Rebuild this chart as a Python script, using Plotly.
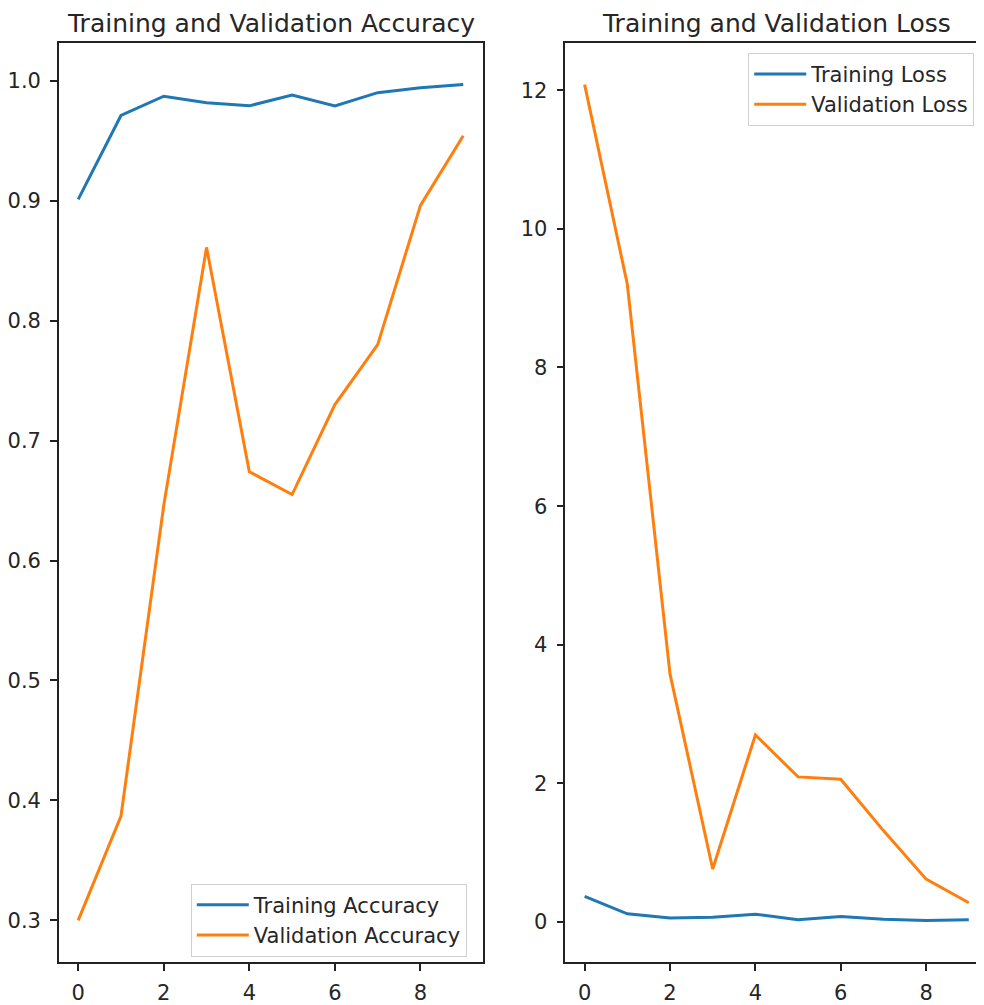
import plotly.graph_objects as go

epochs = [0, 1, 2, 3, 4, 5, 6, 7, 8, 9]
train_acc = [0.901, 0.971, 0.987, 0.9815, 0.979, 0.988, 0.979, 0.990, 0.994, 0.9967]
val_acc = [0.300, 0.387, 0.646, 0.861, 0.674, 0.655, 0.730, 0.780, 0.896, 0.954]
train_loss = [0.37, 0.12, 0.058, 0.072, 0.115, 0.034, 0.08, 0.04, 0.025, 0.034]
val_loss = [12.08, 9.20, 3.58, 0.766, 2.70, 2.095, 2.06, 1.32, 0.62, 0.28]

titles = ["Training and Validation Accuracy", "Training and Validation Loss"]

PAGE_W, PAGE_H = 984, 1005
OFF = 8  # default body margin of the html page
W, H = PAGE_W - OFF, PAGE_H - OFF
BLUE = "#1f77b4"
ORANGE = "#ff7f0e"
TXT = "#262626"
FONT = "DejaVu Sans"


def px(v):
    return v - OFF


def padded(lo, hi, frac=0.05):
    s = hi - lo
    return [lo - frac * s, hi + frac * s]


fig = go.Figure()
fig.add_trace(go.Scatter(x=epochs, y=train_acc, mode="lines", name="Training Accuracy",
                         line=dict(color=BLUE, width=3), xaxis="x", yaxis="y", legend="legend"))
fig.add_trace(go.Scatter(x=epochs, y=val_acc, mode="lines", name="Validation Accuracy",
                         line=dict(color=ORANGE, width=3), xaxis="x", yaxis="y", legend="legend"))
fig.add_trace(go.Scatter(x=epochs, y=train_loss, mode="lines", name="Training Loss",
                         line=dict(color=BLUE, width=3), xaxis="x2", yaxis="y2", legend="legend2"))
fig.add_trace(go.Scatter(x=epochs, y=val_loss, mode="lines", name="Validation Loss",
                         line=dict(color=ORANGE, width=3), xaxis="x2", yaxis="y2", legend="legend2"))

xr = padded(min(epochs), max(epochs))
acc_r = padded(min(train_acc + val_acc), max(train_acc + val_acc))
loss_r = padded(min(train_loss + val_loss), max(train_loss + val_loss))

ax_common = dict(showgrid=False, zeroline=False, showline=True, linecolor="#222", linewidth=1.5,
                 ticks="outside", ticklen=7, tickwidth=1.5, tickcolor="#222",
                 tickfont=dict(family=FONT, size=21, color=TXT))

# page-pixel boxes: left axes 58..482 x 43..967 ; right axes 565..988 (cropped at 984)
ydom = [1 - px(967) / H, 1 - px(43) / H]
right_px_per_unit = (988 - 565) / (xr[1] - xr[0])
x2_end = xr[0] + (PAGE_W - 565) / right_px_per_unit

leg_common = dict(xanchor="left", yanchor="top", bgcolor="rgba(255,255,255,0.8)",
                  bordercolor="#d0d0d0", borderwidth=1,
                  font=dict(family=FONT, size=21, color=TXT), itemwidth=52, tracegroupgap=0)

fig.update_layout(
    width=W, height=H,
    margin=dict(l=0, r=0, t=0, b=0),
    paper_bgcolor="white", plot_bgcolor="white",
    font=dict(family=FONT, color=TXT),
    xaxis=dict(domain=[px(58) / W, px(482) / W], range=xr, dtick=2, tick0=0, anchor="y", mirror=True,
               ticklabelstandoff=4, **ax_common),
    yaxis=dict(domain=ydom, range=acc_r, dtick=0.1, tick0=0, tickformat=".1f", anchor="x", mirror=True,
               ticklabelstandoff=5, **ax_common),
    xaxis2=dict(domain=[px(565) / W, 1.0], range=[xr[0], x2_end], dtick=2, tick0=0, anchor="y2", mirror=True,
                ticklabelstandoff=4, **ax_common),
    yaxis2=dict(domain=ydom, range=loss_r, dtick=2, tick0=0, anchor="x2", mirror=False,
                ticklabelstandoff=5, **ax_common),
    legend=dict(x=px(190) / W, y=1 - px(888) / H, **leg_common),
    legend2=dict(x=px(748) / W, y=1 - px(53) / H, **leg_common),
    showlegend=True,
)

for i, (x0, x1) in enumerate([(58, 482), (565, 988)]):
    fig.add_annotation(text=titles[i], x=px((x0 + x1) / 2) / W, y=1.0, xref="paper", yref="paper",
                       showarrow=False, xanchor="center", yanchor="top", borderpad=0,
                       font=dict(family=FONT, size=25, color=TXT))

fig.write_html("out.html")
